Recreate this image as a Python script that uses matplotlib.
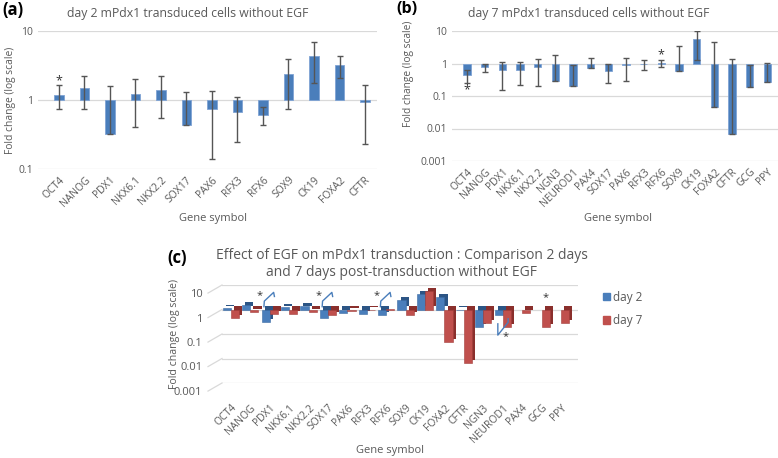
import numpy as np
import matplotlib.pyplot as plt
import matplotlib.patheffects as pe
from matplotlib.transforms import ScaledTranslation, blended_transform_factory
from matplotlib.patches import Patch

plt.rcParams['font.family'] = ['Open Sans', 'DejaVu Sans']

grey = '#595959'
blue = '#4a7ebb'
red = '#c0504d'
grid = '#d9d9d9'

# (a) day 2
genes_a = ['OCT4', 'NANOG', 'PDX1', 'NKX6.1', 'NKX2.2', 'SOX17', 'PAX6',
           'RFX3', 'RFX6', 'SOX9', 'CK19', 'FOXA2', 'CFTR']
day2_val = [1.19, 1.5, 0.32, 1.22, 1.4, 0.43, 0.74, 0.68, 0.61, 2.35, 4.3, 3.2, 0.95]
day2_sd = [0.45, 0.76, 1.3, 0.82, 0.86, 0.87, 0.6, 0.43, 0.18, 1.6, 2.55, 1.15, 0.72]

# (b) day 7
genes_b = ['OCT4', 'NANOG', 'PDX1', 'NKX6.1', 'NKX2.2', 'NGN3', 'NEUROD1', 'PAX4',
           'SOX17', 'PAX6', 'RFX3', 'RFX6', 'SOX9', 'CK19', 'FOXA2', 'CFTR', 'GCG', 'PPY']
day7_val = [0.45, 0.77, 0.65, 0.65, 0.78, 0.28, 0.2, 0.74, 0.6, 0.9, 0.97, 1.04,
            0.57, 5.8, 0.045, 0.0068, 0.19, 0.27]
day7_sd = [0.2, 0.22, 0.5, 0.43, 0.57, 1.56, 0.73, 0.76, 0.34, 0.62, 0.34, 0.25,
           2.8, 4.5, 4.55, 1.35, 0.7, 0.8]

# (c) comparison
genes_c = ['OCT4', 'NANOG', 'PDX1', 'NKX6.1', 'NKX2.2', 'SOX17', 'PAX6', 'RFX3',
           'RFX6', 'SOX9', 'CK19', 'FOXA2', 'CFTR', 'NGN3', 'NEUROD1', 'PAX4', 'GCG', 'PPY']
day2_extra = {'NGN3': 0.2, 'NEUROD1': 0.6}
signif_up = ['PDX1', 'SOX17', 'RFX6']
signif_down = ['NEUROD1']
signif_star = ['GCG']


def err_bounds(val, sd):
    val = np.asarray(val)
    sd = np.asarray(sd)
    lo = np.where(val - sd > 0, sd, 0)
    return [lo, sd]


def style_axis(ax):
    ax.set_yscale('log')
    for s in ax.spines.values():
        s.set_visible(False)
    ax.grid(axis='y', which='major', color=grid, lw=0.9)
    ax.grid(axis='y', which='minor', visible=False)
    ax.set_axisbelow(True)
    ax.tick_params(length=0, colors=grey, labelsize=7.5)
    ax.yaxis.set_minor_locator(plt.NullLocator())
    ax.yaxis.set_major_formatter(plt.FuncFormatter(lambda v, p: f'{v:g}'))


fig = plt.figure(figsize=(7.78, 4.58), dpi=100)
W, H = 778, 458


def add_ax(l, t, r, b):
    return fig.add_axes([l / W, 1 - b / H, (r - l) / W, (b - t) / H])


# ---- panel a
ax = add_ax(38, 31, 377, 169)
style_axis(ax)
x = np.arange(len(genes_a))
ax.bar(x, np.array(day2_val) - 1, bottom=1, width=0.36, color=blue,
       edgecolor='#7fa3d4', lw=0.6)
ax.errorbar(x, day2_val, yerr=err_bounds(day2_val, day2_sd), fmt='none',
            ecolor='#555555', elinewidth=1, capsize=2.5)
ax.text(0, 1.9, '*', ha='center', va='center', color='#333333', fontsize=9)
ax.set_ylim(0.1, 10)
ax.set_xlim(-0.82, 12.47)
ax.set_xticks(x)
ax.set_xticklabels(genes_a, rotation=45, ha='right', rotation_mode='anchor', fontsize=7.5)
ax.tick_params(axis='x', pad=4)
fig.text(188 / W, 1 - 13 / H, 'day 2 mPdx1 transduced cells without EGF',
         ha='center', va='center', color=grey, fontsize=8.8)
fig.text(11 / W, 1 - 100 / H, 'Fold change (log scale)', rotation=90,
         ha='center', va='center', color=grey, fontsize=7.4)
fig.text(213 / W, 1 - 218 / H, 'Gene symbol', ha='center', va='center',
         color=grey, fontsize=8)
fig.text(2 / W, 1 - 10 / H, '(a)', ha='left', va='center', fontsize=12,
         fontweight='bold')

# ---- panel b
ax = add_ax(452, 31, 778, 161)
style_axis(ax)
x = np.arange(len(genes_b))
ax.bar(x, np.array(day7_val) - 1, bottom=1, width=0.42, color=blue,
       edgecolor='#7fa3d4', lw=0.6)
ax.errorbar(x, day7_val, yerr=err_bounds(day7_val, day7_sd), fmt='none',
            ecolor='#555555', elinewidth=1, capsize=2.5)
ax.text(0, 0.15, '*', ha='center', va='center', color='#333333', fontsize=9)
ax.text(genes_b.index('RFX6'), 1.8, '*', ha='center', va='center',
        color='#333333', fontsize=9)
ax.set_ylim(0.001, 10)
ax.set_xlim(-0.85, 17.6)
ax.set_xticks(x)
ax.set_xticklabels(genes_b, rotation=45, ha='right', rotation_mode='anchor', fontsize=7.5)
ax.tick_params(axis='x', pad=4)
fig.text(589 / W, 1 - 13 / H, 'day 7 mPdx1 transduced cells without EGF',
         ha='center', va='center', color=grey, fontsize=8.8)
fig.text(409 / W, 1 - 74 / H, 'Fold change (log scale)', rotation=90,
         ha='center', va='center', color=grey, fontsize=7.3)
fig.text(396 / W, 1 - 9 / H, '(b)', ha='left', va='center', fontsize=11.5,
         fontweight='bold')
fig.text(618 / W, 1 - 218 / H, 'Gene symbol', ha='center', va='center',
         color=grey, fontsize=8)

# ---- panel c
d2 = dict(zip(genes_a, day2_val))
d2.update(day2_extra)
d7 = dict(zip(genes_b, day7_val))
c2 = np.array([d2.get(g, np.nan) for g in genes_c])
c7 = np.array([d7.get(g, np.nan) for g in genes_c])

ax = add_ax(222, 285, 578, 383)
style_axis(ax)
ax.tick_params(axis='y', labelsize=8)
x = np.arange(len(genes_c))
bw = 0.42


def shade(c):
    return [pe.SimplePatchShadow(offset=(2.2, 2.2), shadow_rgbFace=c, alpha=1),
            pe.Normal()]


m2 = ~np.isnan(c2)
m7 = ~np.isnan(c7)
ax.bar(x[m2] - bw / 2, c2[m2] - 1, bottom=1, width=bw, color=blue,
       edgecolor='#3a6aa3', lw=0.4, path_effects=shade('#2c5585'), label='day 2')
ax.bar(x[m7] + bw / 2, c7[m7] - 1, bottom=1, width=bw, color=red,
       edgecolor='#a33e3b', lw=0.4, path_effects=shade('#8a2f2c'), label='day 7')

# significance brackets
for g in signif_up:
    i = genes_c.index(g)
    ax.plot([i - 0.3, i - 0.28, i + 0.2, i + 0.24], [1.3, 2.2, 5.0, 3.4],
            color=blue, lw=1)
    ax.text(i - 0.5, 3.8, '*', ha='center', va='center', color='#333333', fontsize=8)
for g in signif_down:
    i = genes_c.index(g)
    ax.plot([i + 0.28, i + 0.28, i - 0.25, i - 0.25], [0.42, 0.3, 0.09, 0.26],
            color=blue, lw=1)
    ax.text(i + 0.15, 0.075, '*', ha='center', va='center', color='#333333', fontsize=8)
for g in signif_star:
    i = genes_c.index(g)
    ax.text(i + bw / 2, 3.0, '*', ha='center', va='center', color='#333333', fontsize=8)

ax.set_ylim(0.001, 10)
ax.set_xlim(-0.46, 17.88)
ax.set_xticks(x)
ax.set_xticklabels(genes_c, rotation=45, ha='right', rotation_mode='anchor', fontsize=7.5)
ax.tick_params(axis='x', pad=14)

# slanted side-wall gridlines
blend = blended_transform_factory(ax.transAxes, ax.transData)
for v in ax.get_yticks():
    if 0.001 <= v <= 10:
        ax.plot([0, -14 / 356], [v, v / 10 ** 0.33], transform=blend, color=grid,
                lw=0.9, clip_on=False)
off = ScaledTranslation(-0.14, -0.08, fig.dpi_scale_trans)
ax.tick_params(axis='y', pad=4)
for t in ax.yaxis.get_major_ticks():
    t.label1.set_transform(t.label1.get_transform() + off)

ax.legend(handles=[Patch(color=blue, label='day 2'), Patch(color=red, label='day 7')],
          loc='upper left', bbox_to_anchor=(592 / W, 1 - 280 / H),
          bbox_transform=fig.transFigure, frameon=False, fontsize=8.5,
          handlelength=0.6, handleheight=0.6, handletextpad=0.3,
          labelspacing=0.9, labelcolor=grey)

fig.text(402 / W, 1 - 264 / H,
         'Effect of EGF on mPdx1 transduction : Comparison 2 days\n'
         'and 7 days post-transduction without EGF',
         ha='center', va='center', color=grey, fontsize=10, linespacing=1.25)
fig.text(175 / W, 1 - 334 / H, 'Fold change (log scale)', rotation=90,
         ha='center', va='center', color=grey, fontsize=7.6)
fig.text(390 / W, 1 - 450 / H, 'Gene symbol', ha='center', va='center',
         color=grey, fontsize=8)
fig.text(167 / W, 1 - 258 / H, '(c)', ha='left', va='center', fontsize=12,
         fontweight='bold')

fig.savefig('out.png', dpi=100)
